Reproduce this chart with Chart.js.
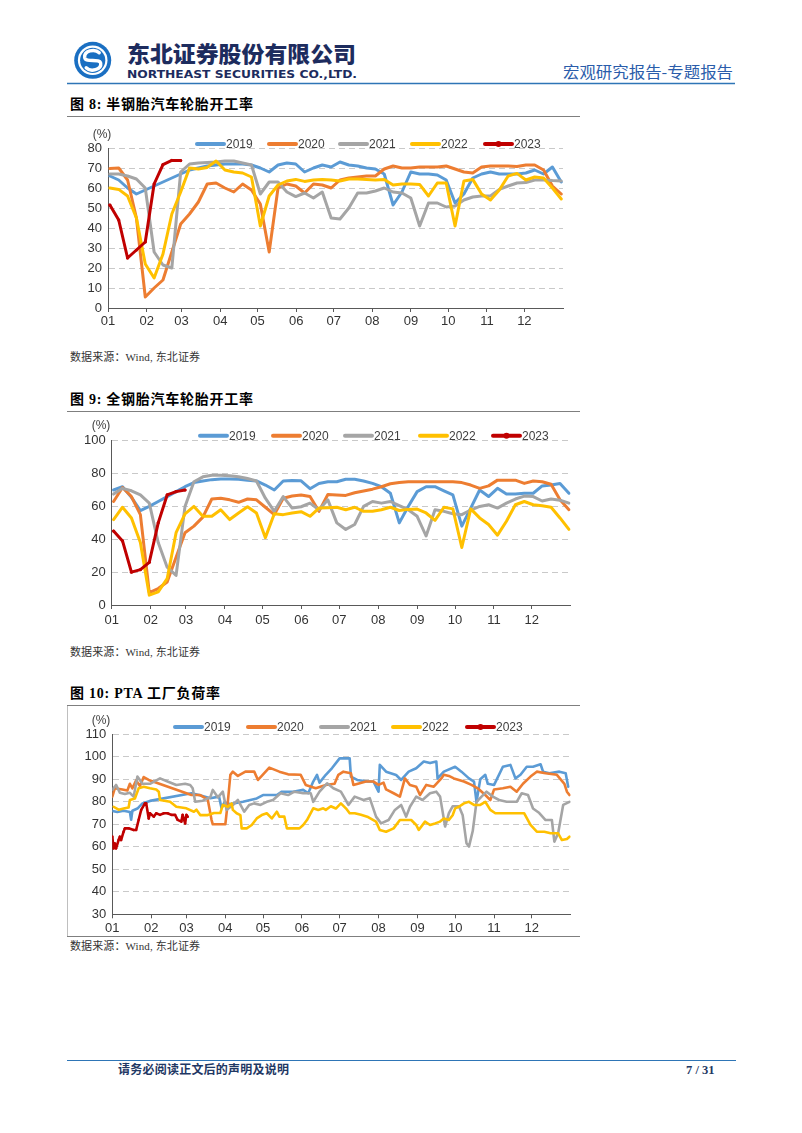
<!DOCTYPE html>
<html lang="zh-CN">
<head>
<meta charset="utf-8">
<title>开工率</title>
<script src="https://cdn.jsdelivr.net/npm/chart.js@4.4.1/dist/chart.umd.min.js"></script>
<style>
  html, body { margin: 0; padding: 0; background: #fff; }
  #page { position: relative; width: 802px; height: 1133px; overflow: hidden; background: #fff; }
  #page svg { position: absolute; left: 0; top: 0; }
  canvas { position: absolute; }
</style>
</head>
<body>
<div id="page">
<svg width="802" height="1133">
  <!-- 页眉 -->
  <g transform="translate(92.7,60.3)">
    <circle r="18.5" fill="#1a6fc2"/>
    <circle r="14.8" fill="#fff"/>
    <circle r="12.6" fill="#1a6fc2"/>
    <path d="M6.5,-7.5 C2,-12 -9,-9.5 -8,-2.5 C-7,3 7,-2.5 8,3 C9,9.5 -2,12 -6.5,7.5" stroke="#fff" stroke-width="3.4" fill="none" stroke-linecap="round"/>
  </g>
  <text x="127" y="62" font-family="Noto Sans CJK SC" font-weight="900" font-size="22" fill="#1d2c5e" textLength="229" lengthAdjust="spacingAndGlyphs">东北证券股份有限公司</text>
  <text x="127" y="77.5" font-family="DejaVu Sans" font-weight="bold" font-size="10.5" fill="#1d2c5e" textLength="230" lengthAdjust="spacingAndGlyphs">NORTHEAST SECURITIES CO.,LTD.</text>
  <text x="563" y="78" font-family="Noto Sans CJK SC" font-size="15.5" fill="#2a5caa" textLength="170" lengthAdjust="spacingAndGlyphs">宏观研究报告-专题报告</text>
  <line x1="67" y1="83.5" x2="735" y2="83.5" stroke="#2e75b6" stroke-width="1.5"/>

  <!-- 图 8 -->
  <text x="70" y="109" font-family="Liberation Serif, Noto Sans CJK SC" font-weight="bold" font-size="14" fill="#000" textLength="183">图 8: 半钢胎汽车轮胎开工率</text>
  <line x1="67" y1="116.5" x2="580" y2="116.5" stroke="#7f7f7f" stroke-width="1"/>
  <text x="70" y="361" font-family="Liberation Serif, Noto Sans CJK SC" font-size="11" fill="#333" textLength="130">数据来源：Wind, 东北证券</text>

  <!-- 图 9 -->
  <text x="70" y="404" font-family="Liberation Serif, Noto Sans CJK SC" font-weight="bold" font-size="14" fill="#000" textLength="183">图 9: 全钢胎汽车轮胎开工率</text>
  <line x1="67" y1="411.5" x2="580" y2="411.5" stroke="#7f7f7f" stroke-width="1"/>
  <text x="70" y="656" font-family="Liberation Serif, Noto Sans CJK SC" font-size="11" fill="#333" textLength="130">数据来源：Wind, 东北证券</text>

  <!-- 图 10 -->
  <text x="70" y="698" font-family="Liberation Serif, Noto Sans CJK SC" font-weight="bold" font-size="14" fill="#000" textLength="150">图 10: PTA 工厂负荷率</text>
  <line x1="67" y1="705.5" x2="580" y2="705.5" stroke="#7f7f7f" stroke-width="1"/>
  <line x1="67.5" y1="706" x2="67.5" y2="936" stroke="#bfbfbf" stroke-width="1"/>
  <line x1="67" y1="936.5" x2="580" y2="936.5" stroke="#7f7f7f" stroke-width="1"/>
  <text x="70" y="950" font-family="Liberation Serif, Noto Sans CJK SC" font-size="11" fill="#333" textLength="130">数据来源：Wind, 东北证券</text>

  <!-- 页脚 -->
  <line x1="67" y1="1060.5" x2="736" y2="1060.5" stroke="#2e75b6" stroke-width="1.2"/>
  <text x="118" y="1074" font-family="Noto Sans CJK SC" font-weight="bold" font-size="12" fill="#1f3864" textLength="171">请务必阅读正文后的声明及说明</text>
  <text x="686" y="1074" font-family="Liberation Serif" font-weight="bold" font-size="12.5" fill="#1f3864">7 / 31</text>
</svg>
<canvas id="c8" width="520" height="210" style="left:60px;top:125px"></canvas>
<canvas id="c9" width="530" height="220" style="left:60px;top:415px"></canvas>
<canvas id="c10" width="530" height="235" style="left:60px;top:705px"></canvas>
</div>
<script>
const monthLabels = ['01', '02', '03', '04', '05', '06', '07', '08', '09', '10', '11', '12'];
const monthStarts = [0, 31, 59, 90, 120, 151, 181, 212, 243, 273, 304, 334];
const years = ['2019', '2020', '2021', '2022', '2023'];
const yearColors = ['#5B9BD5', '#ED7D31', '#A5A5A5', '#FFC000', '#C00000'];

// 图8 半钢胎开工率 (周度, %)
const semi2019 = [66, 64, 60, 57, 59, 61, 63, 65, 67, 69, 70, 71, 71.5, 72, 72, 72, 71.5, 70, 68, 71.5, 72.5, 72, 68, 70, 71.5, 70.5, 73, 71.5, 71, 70, 69.5, 67, 51.5, 58, 68, 67, 67, 66.5, 64, 52.5, 57, 65, 67, 68, 67, 67, 67, 67.5, 69, 67, 70.5, 63];
const semi2020 = [69.7, 70, 64, 45, 5.5, 10, 14, 28, 42, 47, 53, 62, 62.5, 60, 58, 62, 59, 52, 28, 60, 62, 61, 57.5, 62, 61.5, 60, 64, 65, 65.5, 66, 66, 69.5, 71, 70, 70, 70.5, 70.5, 70.5, 71, 69.5, 68, 67.5, 70.5, 71, 71, 71, 70.8, 71.5, 71.5, 69, 61, 57];
const semi2021 = [67, 67, 66, 64.5, 60, 28, 21.5, 20, 68, 72, 72.5, 72.8, 73, 73.5, 73.5, 72.5, 71.5, 57, 63, 63, 58, 55.7, 57.5, 55, 58, 45, 44.5, 50, 57.5, 57.5, 58.5, 60, 58, 57.5, 55, 41, 52.5, 52.5, 50.5, 51, 54, 55.5, 56, 56, 59.3, 61, 62.5, 62.7, 64, 64, 63.7, 63.5];
const semi2022 = [60, 59.3, 56, 45, 22, 15, 27, 47, 58, 70, 69.5, 70.3, 73.5, 69, 68, 67.5, 65.5, 41, 56, 61.5, 63.5, 64.3, 63.3, 64, 64.3, 64, 63.5, 64.5, 64.5, 64.3, 64, 64.3, 61.5, 62, 62, 61.8, 56, 62.5, 62.5, 41, 63.5, 64.3, 57, 54, 59, 66, 67.3, 64, 65.5, 65, 60, 54.5];
const semi2023 = [51.5, 44, 25, 29, 33, 62, 71.7, 73.8, 73.7];

// 图9 全钢胎开工率 (周度, %)
const full2019 = [70, 72, 65.5, 57.5, 60, 63, 66, 69, 72, 74.5, 75.5, 76.3, 76.7, 76.7, 76.5, 76, 75.5, 73, 70, 75.5, 75.8, 75.6, 70.8, 74, 75, 75, 76.5, 76.5, 75.5, 74, 72, 68, 50, 60, 69, 72, 72, 69.5, 67, 48, 59, 70, 66, 71, 67.5, 67.5, 68, 68, 72.5, 73, 74, 68];
const full2020 = [63, 71.5, 66, 55, 7.5, 10, 14, 29, 44, 48, 53.5, 64.5, 65, 64, 62.5, 64.5, 64, 59.5, 55, 65, 66.3, 67, 66, 57, 67.3, 67, 66.7, 68.3, 69.4, 70.5, 72, 73.8, 74.6, 75, 75, 75, 75, 75, 75, 74.5, 73, 71, 72.5, 76, 76, 76, 74, 75.5, 75, 73.5, 64, 58];
const full2021 = [67.5, 71, 69.5, 67, 62, 38, 23, 18, 60, 75, 78, 79, 79, 78.7, 78, 77, 75.5, 65, 57, 66, 59, 59.8, 62, 58, 64, 50, 46, 49, 60, 63, 62, 63, 60.5, 58, 54, 42, 58, 57, 55.5, 55, 57.8, 60, 61, 59, 62, 64.5, 66.3, 66, 63.3, 64.5, 63.8, 62];
const full2022 = [52, 59.5, 53, 38, 6, 8, 16, 44, 55.5, 60, 54, 54, 58, 52, 56, 59.8, 56, 41, 55.5, 55, 56, 56.8, 54, 59, 59.2, 59.5, 58, 59.5, 57, 57, 58, 59.5, 57.5, 58.2, 58.4, 56, 51.5, 59.5, 58.5, 35, 58.5, 53, 49, 42.5, 51, 61, 63, 61, 60.4, 59.5, 53, 46];
const full2023 = [45, 39, 20, 21.5, 26, 50, 67, 69, 70];

// 图10 PTA 工厂负荷率 ([年内第几天, %])
const pta2019 = [[0, 75.9], [4, 75.5], [9, 76], [14, 75.5], [15, 72], [16, 76], [20, 77], [24, 79.3], [30, 80.4], [63, 83.8], [69, 83], [78, 81.6], [85, 82.3], [87, 77.1], [89, 79.5], [94, 79], [104, 80], [115, 81.5], [120, 83], [131, 83], [135, 84.5], [144, 84.5], [152, 85.3], [156, 83.8], [160, 89], [163, 92], [165, 88.5], [170, 92], [175, 95], [181, 99.3], [189, 99.3], [190, 91.2], [195, 89.7], [203, 89], [208, 89], [212, 84.5], [213, 96.4], [218, 93.4], [226, 91.9], [230, 89.7], [236, 93.4], [242, 94.9], [248, 97.9], [253, 97.2], [258, 97.9], [259, 90.4], [264, 93.4], [273, 95.6], [278, 93.4], [284, 90.4], [288, 89], [290, 80], [293, 90], [297, 92], [299, 88], [304, 87.5], [311, 95.6], [317, 96.4], [321, 90.4], [325, 92], [330, 95.6], [335, 95.6], [341, 96.7], [343, 93.4], [348, 92.7], [356, 93.4], [361, 92.7], [363, 86.7]];
const pta2020 = [[0, 82.3], [2, 86], [8, 85.5], [12, 85], [14, 88], [16, 86], [19, 89.5], [22, 87], [25, 91], [29, 89.7], [63, 83], [70, 83], [76, 81], [79, 72], [80, 70], [90, 70], [92, 80], [94, 92], [96, 93.4], [100, 91.5], [106, 93.4], [113, 93.4], [116, 89.7], [119, 91.5], [125, 95.2], [133, 93.4], [140, 92.2], [150, 92], [154, 87.5], [162, 86], [170, 87.5], [177, 88], [180, 92], [184, 93.4], [190, 92.7], [192, 87.5], [202, 89], [208, 89], [212, 87.5], [216, 88.5], [218, 85.5], [224, 83.8], [229, 82.3], [233, 90.4], [237, 87.5], [242, 86.7], [245, 83], [250, 87.5], [256, 86.7], [262, 90.4], [264, 92], [268, 91.5], [272, 90.4], [280, 89], [286, 87.5], [291, 86], [297, 83], [301, 80.8], [304, 85.5], [311, 86], [317, 86.7], [322, 84.5], [327, 88], [333, 91.2], [338, 93.4], [345, 92.7], [354, 92], [360, 88], [362, 84.5], [364, 83]];
const pta2021 = [[0, 85.3], [3, 87.5], [6, 84], [10, 83.5], [14, 84], [17, 82.3], [20, 91.2], [24, 88], [30, 88], [38, 90.4], [44, 89], [51, 87.5], [58, 88], [62, 87.5], [64, 86], [66, 80], [72, 80.5], [78, 82], [80, 85.3], [84, 82], [88, 84.5], [91, 76.4], [96, 78.6], [100, 80.8], [105, 75.6], [109, 78.6], [113, 79.3], [118, 78.6], [123, 80], [128, 80.8], [134, 83.8], [140, 83], [145, 84.5], [152, 83.8], [158, 83.8], [160, 80], [165, 84.5], [171, 88.2], [176, 86], [182, 84.5], [185, 81.6], [188, 78.6], [193, 82.3], [200, 80.8], [205, 81.6], [210, 73.4], [214, 70.4], [220, 71.9], [225, 76.4], [230, 78.6], [234, 73.4], [237, 77.8], [242, 82.3], [247, 80.8], [253, 83.8], [258, 84.5], [261, 82.3], [265, 69], [268, 75], [271, 78], [276, 78], [279, 74], [282, 61.6], [284, 60.1], [287, 67], [290, 80], [294, 82.3], [298, 84.5], [303, 82.3], [308, 80.8], [314, 80], [322, 80], [326, 83.8], [331, 83], [335, 77], [340, 75], [345, 71.9], [350, 71.9], [352, 62.3], [355, 66], [359, 78.6], [364, 80]];
const pta2022 = [[1, 77.8], [5, 76.5], [9, 77], [13, 77.5], [14, 80.8], [18, 81.5], [21, 86], [25, 86.7], [30, 86], [35, 85.5], [37, 84.5], [38, 80.8], [46, 80], [51, 77.8], [59, 77.1], [65, 75.6], [67, 76.5], [70, 74.1], [76, 74.1], [81, 75], [86, 75], [88, 78.6], [92, 77.8], [95, 79.3], [96, 76.4], [99, 74.9], [102, 74.1], [103, 68.2], [107, 68.2], [111, 69.7], [115, 72.6], [119, 74.1], [123, 74.9], [127, 72.6], [131, 75.6], [133, 73.4], [137, 73.4], [139, 68.2], [149, 68.2], [152, 69.7], [155, 71.9], [160, 77.1], [164, 76.4], [168, 77.1], [170, 76.4], [174, 78], [178, 77], [182, 79.3], [186, 77.1], [189, 74.9], [193, 74.9], [198, 74.2], [203, 73.4], [210, 71.2], [213, 67.5], [218, 66.7], [224, 68.2], [229, 71.9], [238, 71.9], [242, 69.7], [244, 67.5], [249, 71.2], [253, 69.7], [257, 70.4], [261, 71.2], [264, 72.6], [268, 71.9], [271, 74], [273, 77.1], [276, 77.8], [280, 79.3], [284, 80], [288, 78.6], [293, 78.6], [297, 80], [301, 76.4], [305, 74.9], [310, 74.9], [320, 74.9], [328, 74.9], [333, 69.7], [338, 66.7], [344, 66.7], [349, 66], [355, 66], [358, 63], [362, 63.5], [364, 64.5]];
const pta2023 = [[0, 64.5], [1, 59.3], [2, 61.5], [3, 59.3], [5, 63], [6, 64.5], [7, 63], [9, 66.7], [10, 68.2], [13, 68.2], [17, 67.5], [19, 67.5], [21, 72], [23, 76.4], [26, 79.3], [27, 79.3], [29, 72.6], [30, 74.9], [33, 73.4], [35, 74.9], [38, 74.2], [41, 74.9], [44, 74.9], [47, 74.2], [50, 74.2], [52, 72], [55, 71.2], [56, 74.2], [58, 70.4], [59, 74.2], [60, 73.4]];

const tickFont = { family: '"Liberation Sans", Arial, sans-serif', size: 13 };
const tickColor = '#333';
const axisColor = '#595959';

// weekly points are placed by week number inside the year
function weekly(values) {
    return values.map((v, i) => ({ x: 1.5 + i * 7.1, y: v }));
}
function daily(pairs) {
    return pairs.map(([d, v]) => ({ x: d, y: v }));
}

// legend + unit label drawn above the plot, like the report
const yearLegend = {
    id: 'yearLegend',
    afterDraw(chart, args, opts) {
        const ctx = chart.ctx;
        ctx.save();
        ctx.font = '12px "Liberation Sans", Arial, sans-serif';
        ctx.textBaseline = 'middle';
        ctx.fillStyle = '#404040';
        ctx.textAlign = 'center';
        ctx.fillText('(%)', opts.unitX, opts.unitY);
        ctx.textAlign = 'left';
        chart.data.datasets.forEach((ds, i) => {
            const x = opts.xs[i];
            const y = opts.y;
            ctx.strokeStyle = ds.borderColor;
            ctx.lineWidth = 4;
            ctx.lineCap = 'round';
            ctx.beginPath();
            ctx.moveTo(x, y);
            ctx.lineTo(x + 27, y);
            ctx.stroke();
            if (ds.pointRadius > 0) {
                ctx.fillStyle = ds.borderColor;
                ctx.beginPath();
                ctx.arc(x + 13.5, y, 3, 0, Math.PI * 2);
                ctx.fill();
            }
            ctx.fillStyle = '#404040';
            ctx.fillText(ds.label, x + 29, y + 0.5);
        });
        ctx.restore();
    }
};

function buildChart(id, series, axis, frame) {
    const datasets = series.map((data, i) => ({
        label: years[i],
        data,
        borderColor: yearColors[i],
        backgroundColor: yearColors[i],
        borderWidth: frame.lineWidth,
        pointRadius: i === 4 ? frame.dot : 0,
        pointBorderWidth: 0,
        pointHoverRadius: 0,
        tension: 0,
        order: 4 - i,
        borderJoinStyle: 'round',
        borderCapStyle: 'round'
    }));

    return new Chart(document.getElementById(id), {
        type: 'line',
        data: { datasets },
        options: {
            responsive: false,
            animation: false,
            events: [],
            layout: { padding: { left: 0, right: frame.right, top: frame.top, bottom: 0 } },
            plugins: {
                legend: { display: false },
                tooltip: { enabled: false },
                yearLegend: { xs: frame.legendX, y: frame.legendY, unitX: frame.unitX, unitY: frame.unitY }
            },
            scales: {
                x: {
                    type: 'linear',
                    min: 0,
                    max: 365,
                    afterBuildTicks: s => { s.ticks = monthStarts.map(v => ({ value: v })); },
                    afterFit: s => { s.height = frame.xHeight; },
                    ticks: {
                        autoSkip: false,
                        maxRotation: 0,
                        padding: frame.xPad,
                        color: tickColor,
                        font: tickFont,
                        callback: v => monthLabels[monthStarts.indexOf(v)]
                    },
                    grid: { drawOnChartArea: false, drawTicks: true, tickLength: 4, color: axisColor },
                    border: { color: axisColor, width: 1 }
                },
                y: {
                    min: axis.min,
                    max: axis.max,
                    afterFit: s => { s.width = frame.yWidth; },
                    ticks: { stepSize: axis.step, padding: 6, color: tickColor, font: tickFont },
                    grid: {
                        drawTicks: false,
                        lineWidth: 1,
                        color: c => c.tick.value === axis.min ? 'rgba(0,0,0,0)' : '#C9C9C9'
                    },
                    border: { color: axisColor, width: 1, dash: [6, 4] }
                }
            }
        },
        plugins: [yearLegend]
    });
}

buildChart('c8',
    [semi2019, semi2020, semi2021, semi2022, semi2023].map(weekly),
    { min: 0, max: 80, step: 10 },
    { yWidth: 48, right: 17, top: 23, xHeight: 27, xPad: 2, lineWidth: 3, dot: 1.6,
      legendX: [137, 209, 280, 352, 425], legendY: 19, unitX: 42, unitY: 10 });

buildChart('c9',
    [full2019, full2020, full2021, full2022, full2023].map(weekly),
    { min: 0, max: 100, step: 20 },
    { yWidth: 51.7, right: 19.3, top: 25.7, xHeight: 30, xPad: 3.5, lineWidth: 3, dot: 1.6,
      legendX: [140, 213, 285, 360, 433], legendY: 20.7, unitX: 41, unitY: 11 });

buildChart('c10',
    [pta2019, pta2020, pta2021, pta2022, pta2023].map(daily),
    { min: 30, max: 110, step: 10 },
    { yWidth: 52.3, right: 19.3, top: 29.3, xHeight: 25.7, xPad: 2.5, lineWidth: 2.6, dot: 1.2,
      legendX: [115, 188, 261, 333, 407], legendY: 22, unitX: 41, unitY: 16 });
</script>
</body>
</html>
